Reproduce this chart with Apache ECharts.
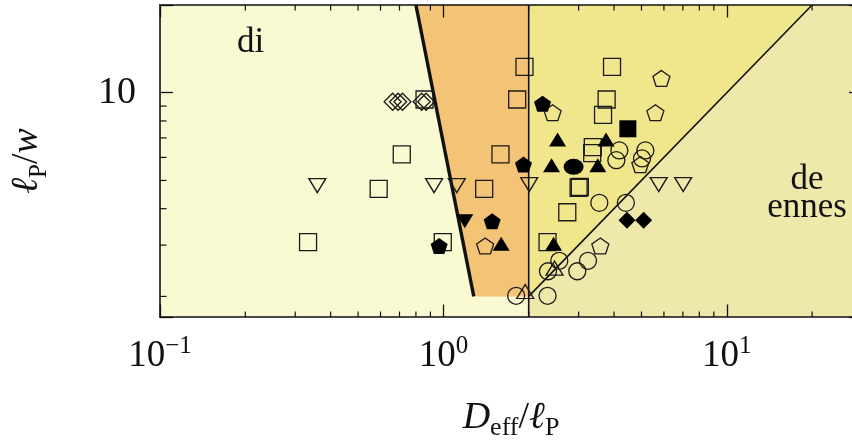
<!DOCTYPE html>
<html>
<head>
<meta charset="utf-8">
<script src="https://cdn.jsdelivr.net/npm/echarts@6/dist/echarts.min.js"></script>
<style>
html, body { margin: 0; padding: 0; background: #fff; }
#regimes { width: 852px; height: 442px; }
</style>
</head>
<body>
<div id="regimes"></div>
<script>
// axis ranges (log-log)
const xRange = [0.1, 30]
const yRange = [1.7, 20]
const xMinorTicks = [0.2, 0.3, 0.4, 0.5, 0.6, 0.7, 0.8, 0.9, 2, 3, 4, 5, 6, 7, 8, 9, 20]
const yMinorTicks = [2, 3, 4, 5, 6, 7, 8, 9]

// regime boundaries (data coordinates)
const orangeRegion = [[0.8, 20], [1.28, 2], [2, 2], [2, 20]]
const khakiRegion = [[2, 2], [20, 20], [2, 20]]
const gennesRegion = [[2, 1.7], [2, 2], [20, 20], [30, 20], [30, 1.7]]
const thickBoundary = [[0.8, 20], [1.28, 2]]
const verticalBoundary = [[2, 1.7], [2, 20]]
const diagonalBoundary = [[2, 2], [20, 20]]

// measurements  [D_eff/l_P, l_P/w]
const openSquares = [
  [0.333, 3.07], [0.591, 4.68], [0.713, 6.14], [0.858, 9.48], [0.995, 3.07],
  [1.393, 4.68], [1.59, 6.14], [1.821, 9.48], [1.933, 12.27], [2.331, 3.07],
  [2.736, 3.89], [3.0, 4.72], [3.03, 4.75], [3.367, 6.51], [3.35, 6.21],
  [3.659, 8.39], [3.767, 9.48], [3.936, 12.27]
]
const openDiamonds = [[0.662, 9.31], [0.692, 9.31], [0.717, 9.31], [0.838, 9.31], [0.869, 9.31]]
const openTrianglesDown = [[0.359, 4.8], [0.927, 4.8], [1.115, 4.8], [2.008, 4.84], [5.751, 4.84], [7.015, 4.84]]
const filledTrianglesDown = [[1.19, 3.62]]
const openPentagons = [[1.404, 2.98], [2.428, 8.54], [3.579, 2.98], [4.955, 5.67], [5.598, 8.54], [5.879, 11.2]]
const filledPentagons = [[0.966, 2.98], [1.486, 3.62], [1.917, 5.67], [2.238, 9.17]]
const filledTrianglesUp = [[1.599, 3.03], [2.448, 3.03], [2.408, 5.64], [2.529, 6.91], [3.507, 5.64], [3.749, 6.91]]
const filledEllipses = [[2.88, 5.57]]
const filledSquares = [[4.476, 7.52]]
const filledDiamonds = [[4.446, 3.65], [5.089, 3.65]]
const openCircles = [
  [1.806, 2.01], [2.331, 2.01], [2.339, 2.44], [2.564, 2.65], [2.968, 2.44], [3.238, 2.65],
  [3.55, 4.19], [4.404, 4.19], [4.177, 6.34], [4.077, 5.87], [5.16, 6.34], [5.023, 5.95]
]
const openTrianglesUp = [[1.944, 2.08], [2.468, 2.5]]

const serif = '"Liberation Serif", "DejaVu Serif", serif'
const ink = '#111'
const pentagon = 'path://M0,-10L9.511,-3.09L5.878,8.09L-5.878,8.09L-9.511,-3.09Z'

function regionSeries (points, fill) {
  return {
    type: 'custom',
    silent: true,
    z: 1,
    data: [[points[0][0], points[0][1]]],
    renderItem: function (params, api) {
      return {
        type: 'polygon',
        shape: { points: points.map(p => api.coord(p)) },
        style: { fill: fill }
      }
    }
  }
}

function boundarySeries (points, width) {
  return {
    type: 'custom',
    silent: true,
    z: 2,
    data: [[points[0][0], points[0][1]]],
    renderItem: function (params, api) {
      return {
        type: 'polyline',
        shape: { points: points.map(p => api.coord(p)) },
        style: { stroke: ink, lineWidth: width, fill: null }
      }
    }
  }
}

function markerSeries (data, symbol, size, filled, rotate) {
  return {
    type: 'scatter',
    silent: true,
    z: 3,
    data: data,
    symbol: symbol,
    symbolSize: size,
    symbolRotate: rotate || 0,
    itemStyle: filled
      ? { color: '#000', borderWidth: 0, opacity: 1 }
      : { color: 'rgba(0,0,0,0)', borderColor: '#1a1a1a', borderWidth: 1.3, opacity: 1 }
  }
}

const xMinorSeries = {
  type: 'custom',
  silent: true,
  clip: false,
  z: 4,
  data: xMinorTicks.map(v => [v, yRange[0]]),
  renderItem: function (params, api) {
    const b = api.coord([api.value(0), yRange[0]])
    const t = api.coord([api.value(0), yRange[1]])
    return {
      type: 'group',
      children: [
        { type: 'line', shape: { x1: b[0], y1: b[1], x2: b[0], y2: b[1] - 5.5 }, style: { stroke: ink, lineWidth: 1.2 } },
        { type: 'line', shape: { x1: t[0], y1: t[1], x2: t[0], y2: t[1] + 5.5 }, style: { stroke: ink, lineWidth: 1.2 } }
      ]
    }
  }
}

const yMinorSeries = {
  type: 'custom',
  silent: true,
  clip: false,
  z: 4,
  data: yMinorTicks.map(v => [xRange[0], v]),
  renderItem: function (params, api) {
    const l = api.coord([xRange[0], api.value(1)])
    const r = api.coord([xRange[1], api.value(1)])
    return {
      type: 'group',
      children: [
        { type: 'line', shape: { x1: l[0], y1: l[1], x2: l[0] + 6.5, y2: l[1] }, style: { stroke: ink, lineWidth: 1.2 } },
        { type: 'line', shape: { x1: r[0], y1: r[1], x2: r[0] - 6.5, y2: r[1] }, style: { stroke: ink, lineWidth: 1.2 } }
      ]
    }
  }
}

function isDecade (v) {
  const l = Math.log10(v)
  return Math.abs(l - Math.round(l)) < 1e-6
}

const chart = echarts.init(document.getElementById('regimes'), null, { renderer: 'canvas' })
chart.setOption({
  animation: false,
  backgroundColor: '#fff',
  grid: {
    left: 160,
    right: -10,
    top: 5,
    bottom: 125,
    containLabel: false,
    outerBoundsMode: 'none',
    show: true,
    backgroundColor: '#fafad2',
    borderWidth: 0
  },
  xAxis: [{
    type: 'log',
    logBase: 10,
    min: xRange[0],
    max: xRange[1],
    position: 'bottom',
    z: 10,
    axisLine: { show: true, lineStyle: { color: ink, width: 1.6 } },
    axisTick: { show: true, inside: true, length: 12.5, lineStyle: { color: ink, width: 1.3 } },
    splitLine: { show: false },
    minorTick: { show: false },
    axisLabel: {
      show: true,
      margin: 17,
      showMinLabel: true,
      showMaxLabel: true,
      formatter: function (v) {
        if (!isDecade(v)) return ''
        const e = Math.round(Math.log10(v))
        return '{b|10}{s|' + (e < 0 ? '\u2212' + (-e) : e) + '}'
      },
      rich: {
        b: { fontFamily: serif, fontSize: 37, color: ink, verticalAlign: 'bottom', lineHeight: 41 },
        s: { fontFamily: serif, fontSize: 25, color: ink, verticalAlign: 'top', lineHeight: 24 }
      }
    },
    name: '{i|D}{sub|eff}{n|/}{i|\u2113}{sub|P}',
    nameLocation: 'middle',
    nameGap: 82,
    nameTextStyle: {
      rich: {
        i: { fontFamily: serif, fontStyle: 'italic', fontSize: 38, color: ink, verticalAlign: 'top', lineHeight: 36 },
        n: { fontFamily: serif, fontSize: 38, color: ink, verticalAlign: 'top', lineHeight: 36 },
        sub: { fontFamily: serif, fontSize: 26, color: ink, verticalAlign: 'bottom', lineHeight: 42 }
      }
    }
  }, {
    type: 'log',
    logBase: 10,
    min: xRange[0],
    max: xRange[1],
    position: 'top',
    z: 10,
    axisLine: { show: true, lineStyle: { color: ink, width: 1.6 } },
    axisTick: { show: true, inside: true, length: 12.5, lineStyle: { color: ink, width: 1.3 } },
    splitLine: { show: false },
    axisLabel: { show: false }
  }],
  yAxis: [{
    type: 'log',
    logBase: 10,
    min: yRange[0],
    max: yRange[1],
    position: 'left',
    z: 10,
    axisLine: { show: true, lineStyle: { color: ink, width: 1.6 } },
    axisTick: { show: true, inside: true, length: 13, lineStyle: { color: ink, width: 1.3 } },
    splitLine: { show: false },
    minorTick: { show: false },
    axisLabel: {
      show: true,
      margin: 24,
      showMinLabel: true,
      showMaxLabel: true,
      fontFamily: serif,
      fontSize: 38,
      color: ink,
      formatter: function (v) {
        return isDecade(v) ? String(Math.round(v)) : ''
      }
    },
    name: '{i|\u2113}{sub|P}{n|/}{i|w}',
    nameLocation: 'middle',
    nameGap: 108,
    nameRotate: 90,
    nameTextStyle: {
      rich: {
        i: { fontFamily: serif, fontStyle: 'italic', fontSize: 38, color: ink, verticalAlign: 'top', lineHeight: 36 },
        n: { fontFamily: serif, fontSize: 38, color: ink, verticalAlign: 'top', lineHeight: 36 },
        sub: { fontFamily: serif, fontSize: 25, color: ink, verticalAlign: 'bottom', lineHeight: 44 }
      }
    }
  }, {
    type: 'log',
    logBase: 10,
    min: yRange[0],
    max: yRange[1],
    position: 'right',
    z: 10,
    axisLine: { show: true, lineStyle: { color: ink, width: 1.6 } },
    axisTick: { show: true, inside: true, length: 13, lineStyle: { color: ink, width: 1.3 } },
    splitLine: { show: false },
    axisLabel: { show: false }
  }],
  graphic: [
    { type: 'text', x: 237, y: 25, z: 20, style: { text: 'di', fontFamily: serif, fontSize: 35, fill: ink } },
    { type: 'text', x: 807, y: 166, z: 20, style: { text: 'de\nennes', align: 'center', lineHeight: 28, fontFamily: serif, fontSize: 35, fill: ink } }
  ],
  series: [
    regionSeries(gennesRegion, '#eee8aa'),
    regionSeries(khakiRegion, '#f0e68c'),
    regionSeries(orangeRegion, '#f4c476'),
    boundarySeries(verticalBoundary, 1.6),
    boundarySeries(diagonalBoundary, 1.6),
    boundarySeries(thickBoundary, 3.4),
    markerSeries(openSquares, 'rect', 17, false),
    markerSeries(openDiamonds, 'diamond', 17, false),
    markerSeries(openTrianglesDown, 'triangle', [17, 14], false, 180),
    markerSeries(filledTrianglesDown, 'triangle', [17, 14], true, 180),
    markerSeries(openPentagons, pentagon, [17, 16], false),
    markerSeries(filledPentagons, pentagon, [17, 16], true),
    markerSeries(filledTrianglesUp, 'triangle', [17, 14], true),
    markerSeries(filledEllipses, 'circle', [20, 16], true),
    markerSeries(filledSquares, 'rect', 17, true),
    markerSeries(filledDiamonds, 'diamond', 17, true),
    markerSeries(openCircles, 'circle', 17, false),
    markerSeries(openTrianglesUp, 'triangle', [17, 14], false),
    xMinorSeries,
    yMinorSeries
  ]
})
</script>
</body>
</html>
